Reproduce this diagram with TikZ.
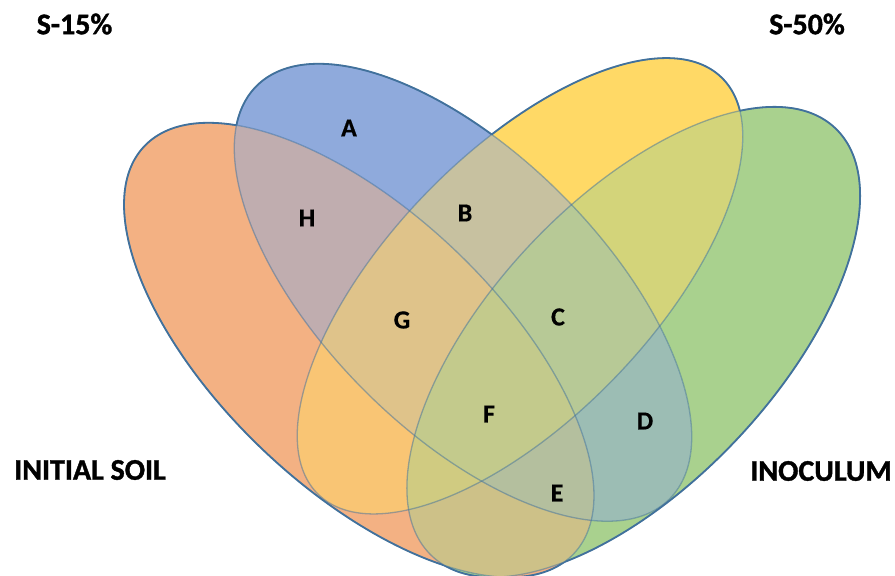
\documentclass[tikz,border=0pt]{standalone}
\usepackage{fontspec}
\setmainfont{Carlito}
\newfontfamily\heavyfont{Carlito}[UprightFont=*-Bold, FakeBold=1.2]
\newfontfamily\letterfont{Carlito}[UprightFont=*-Bold, FakeBold=0.5]
\definecolor{cOrange}{RGB}{243,177,131}
\definecolor{cBlue}{RGB}{143,170,220}
\definecolor{cYellow}{RGB}{255,217,102}
\definecolor{cGreen}{RGB}{169,209,142}
\definecolor{edge}{RGB}{65,113,156}
\tikzset{
  ellO/.style={rotate around={-43.5:(359,-350)},
    insert path={(359,-350) ellipse [x radius=296, y radius=138.5]}},
  ellB/.style={rotate around={-45:(463,-292.5)},
    insert path={(463,-292.5) ellipse [x radius=292, y radius=139]}},
  ellY/.style={rotate around={46:(520,-286)},
    insert path={(520,-286) ellipse [x radius=290, y radius=132]}},
  ellG/.style={rotate around={46.7:(633.5,-342)},
    insert path={(633.5,-342) ellipse [x radius=294, y radius=142]}},
  outside/.style={insert path={(-3000,3000) rectangle (4000,-4000)}},
  inner/.style={draw=edge, line width=1.3pt, draw opacity=0.5},
  outer/.style={draw=edge, line width=1.8pt},
  region/.style={font=\fontsize{26}{26}\letterfont, inner sep=0pt},
  setname/.style={font=\fontsize{30}{30}\heavyfont, inner sep=0pt},
}
\begin{document}
\begin{tikzpicture}[x=1pt, y=1pt]
  \fill[white] (0,0) rectangle (895,-576);
  % each set: opaque where it meets the page, half-transparent over earlier sets
  \fill[cOrange, ellO];
  \begin{scope}[even odd rule]
    \clip[ellB]; \clip[ellO, outside];
    \fill[cBlue, ellB];
  \end{scope}
  \fill[cBlue, fill opacity=0.5, ellB];
  \begin{scope}[even odd rule]
    \clip[ellY]; \clip[ellO, outside]; \clip[ellB, outside];
    \fill[cYellow, ellY];
  \end{scope}
  \fill[cYellow, fill opacity=0.5, ellY];
  \begin{scope}[even odd rule]
    \clip[ellG]; \clip[ellO, outside]; \clip[ellB, outside]; \clip[ellY, outside];
    \fill[cGreen, ellG];
  \end{scope}
  \fill[cGreen, fill opacity=0.5, ellG];
  % outlines: faint inside, solid on the outer rim
  \path[inner, ellO]; \path[inner, ellB]; \path[inner, ellY]; \path[inner, ellG];
  \begin{scope}[even odd rule]
    \clip[ellB, outside]; \clip[ellY, outside]; \clip[ellG, outside];
    \path[outer, ellO];
  \end{scope}
  \begin{scope}[even odd rule]
    \clip[ellO, outside]; \clip[ellY, outside]; \clip[ellG, outside];
    \path[outer, ellB];
  \end{scope}
  \begin{scope}[even odd rule]
    \clip[ellO, outside]; \clip[ellB, outside]; \clip[ellG, outside];
    \path[outer, ellY];
  \end{scope}
  \begin{scope}[even odd rule]
    \clip[ellO, outside]; \clip[ellB, outside]; \clip[ellY, outside];
    \path[outer, ellG];
  \end{scope}
  % region letters
  \node[region] (rA) at (349,-128) {A};
  \node[region] (rB) at (465,-213) {B};
  \node[region] (rC) at (558,-317) {C};
  \node[region] (rD) at (645,-421) {D};
  \node[region] (rE) at (557,-493) {E};
  \node[region] (rF) at (489,-414) {F};
  \node[region] (rG) at (402,-320) {G};
  \node[region] (rH) at (307,-218) {H};
  % set names
  \node[setname] (s15) at (74.5,-24) {S-15\%};
  \node[setname] (s50) at (807,-24) {S-50\%};
  \node[setname] (soil) at (90,-470) {INITIAL SOIL};
  \node[setname] (inoc) at (821,-471) {INOCULUM};
  \pgfresetboundingbox
  \useasboundingbox (0,0) rectangle (895,-576);
\end{tikzpicture}
\end{document}
